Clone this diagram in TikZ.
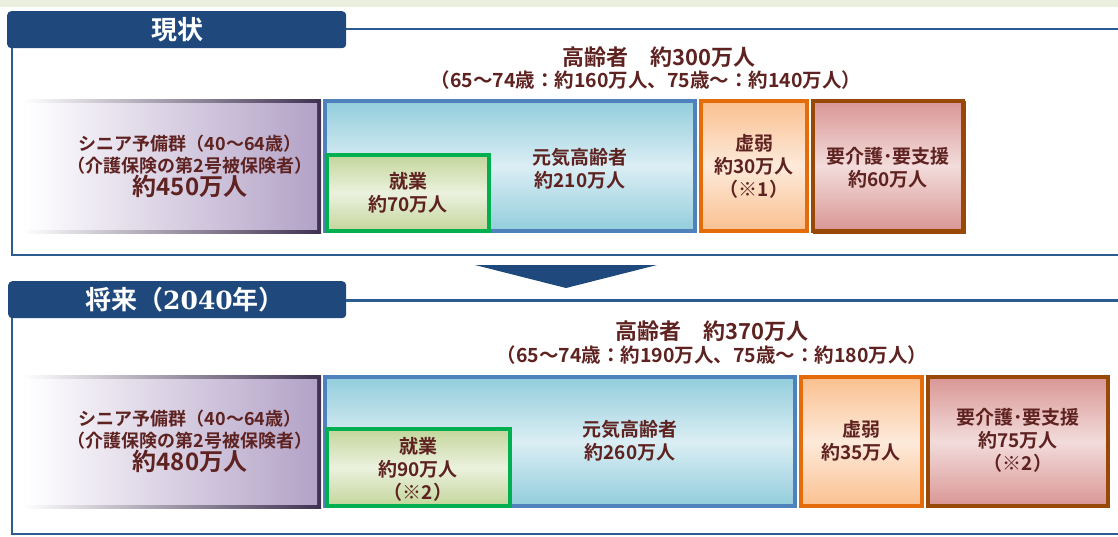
\documentclass[tikz,border=0pt]{standalone}
\usepackage{fontspec}
\newfontfamily\jp{Noto Sans CJK JP}[BoldFont={Noto Sans CJK JP Bold}]
\newfontfamily\numserif{DejaVu Serif Bold}
\definecolor{txtred}{HTML}{5E2220}
\definecolor{tabblue}{HTML}{1F497D}
\definecolor{frameblue}{HTML}{2B5C8F}
\definecolor{band}{HTML}{EBF0DE}
\definecolor{genkiB}{HTML}{4F81BD}\definecolor{genkiA}{HTML}{92CDDC}\definecolor{genkiM}{HTML}{DBEEF4}
\definecolor{shuB}{HTML}{00B050}\definecolor{shuA}{HTML}{C3D69B}\definecolor{shuM}{HTML}{EBF1DE}
\definecolor{kyoB}{HTML}{E46C0A}\definecolor{kyoA}{HTML}{FAC090}\definecolor{kyoM}{HTML}{FDEADA}
\definecolor{yoB}{HTML}{984807}\definecolor{yoA}{HTML}{D99694}\definecolor{yoM}{HTML}{F2DCDB}
\definecolor{senF}{HTML}{B3A2C7}\definecolor{senB}{HTML}{3F3151}
\begin{document}
\begin{tikzpicture}[x=1pt,y=-1pt,
  txt/.style={font={\jp\bfseries\fontsize{19}{23}\selectfont}, text=txtred, align=center, inner sep=0pt},
  sentxt/.style={txt, font={\jp\bfseries\fontsize{18}{22}\selectfont}},
  sub/.style={txt, font={\jp\bfseries\fontsize{19.5}{24}\selectfont}},
  big/.style={txt, font={\jp\bfseries\fontsize{22}{26}\selectfont}},
  tabbox/.style={fill=tabblue, rounded corners=4pt, inner sep=0pt, anchor=north west},
  tabtxt/.style={text=white, font={\jp\bfseries\fontsize{26}{30}\selectfont}, inner sep=0pt},
  frame/.style={draw=frameblue, line width=2.5pt},
  catbox/.style={line width=4pt, inner sep=0pt},
  genki/.style={catbox, draw=genkiB, top color=genkiA, bottom color=genkiA, middle color=genkiM},
  shu/.style={catbox, draw=shuB, top color=shuA, bottom color=shuA, middle color=shuM},
  kyo/.style={catbox, draw=kyoB, top color=kyoA, bottom color=kyoA, middle color=kyoM},
  yo/.style={catbox, draw=yoB, top color=yoA, bottom color=yoA, middle color=yoM},
]
\useasboundingbox (0,0) rectangle (1118,536);
\fill[band] (0,0) rectangle (1118,7);

% ---------- Frame 1 ----------
\node[tabbox, minimum width=339pt, minimum height=37pt] (tab1) at (7,11) {};
\node[tabtxt] (tab1t) at (177,30) {現状};
\coordinate (f1tl) at (12,48);
\coordinate (f1bl) at (12,255);
\coordinate (f1br) at (1118,255);
\coordinate (f1tr) at (1118,29);
\draw[frame] (f1tl) -- (f1bl) -- (f1br);
\draw[frame] (tab1.east |- f1tr) -- (f1tr);

\node[big] (h1) at (659,57) {高齢者　約300万人};
\node[sub] (h1b) at (646,80) {（65～74歳：約160万人、75歳～：約140万人）};

\shade[left color=white, right color=senB] (22,99) rectangle (321,233);
\shade[left color=white, right color=senF] (26,103) rectangle (317,229);
\node[sentxt] (sen1) at (190,166) {シニア予備群（40～64歳）\\（介護保険の第2号被保険者）\\{\fontsize{24}{26}\selectfont 約450万人}};

\node[genki, minimum width=370pt, minimum height=130pt] (genki1) at (510,166) {};
\node[txt] (genki1t) at (580,169) {元気高齢者\\約210万人};
\node[shu, minimum width=162pt, minimum height=76pt] (shu1) at (408,193) {};
\node[txt] (shu1t) at (408,193) {就業\\約70万人};
\node[kyo, minimum width=106pt, minimum height=130pt] (kyo1) at (754,166) {};
\node[txt] (kyo1t) at (754,166) {虚弱\\約30万人\\（※1）};
\fill[yoB] (813,101) rectangle (966,234);
\node[yo, minimum width=150pt, minimum height=130pt] (yo1) at (888,166) {};
\node[txt] (yo1t) at (888,168) {要介護･要支援\\約60万人};

% ---------- Arrow ----------
\coordinate (arL) at (475,265);
\coordinate (arR) at (657,265);
\coordinate (arT) at (566,288);
\fill[tabblue] (arL) -- (arR) -- (arT) -- cycle;

% ---------- Frame 2 ----------
\node[tabbox, minimum width=338pt, minimum height=37pt] (tab2) at (8,281) {};
\node[tabtxt] (tab2t) at (185,300) {将来（{\numserif\fontsize{25}{28}\selectfont 2040}年）};
\coordinate (f2tl) at (12,318);
\coordinate (f2bl) at (12,534);
\coordinate (f2br) at (1118,534);
\coordinate (f2tr) at (1118,300.5);
\draw[frame] (f2tl) -- (f2bl) -- (f2br);
\draw[frame] (tab2.east |- f2tr) -- (f2tr);

\node[big] (h2) at (712,331) {高齢者　約370万人};
\node[sub] (h2b) at (712,355) {（65～74歳：約190万人、75歳～：約180万人）};

\shade[left color=white, right color=senB] (22,375) rectangle (321,508);
\shade[left color=white, right color=senF] (26,379) rectangle (317,504);
\node[sentxt] (sen2) at (190,441) {シニア予備群（40～64歳）\\（介護保険の第2号被保険者）\\{\fontsize{24}{26}\selectfont 約480万人}};

\node[genki, minimum width=470pt, minimum height=129pt] (genki2) at (560,441.5) {};
\node[txt] (genki2t) at (630,441) {元気高齢者\\約260万人};
\node[shu, minimum width=183pt, minimum height=77pt] (shu2) at (418.5,467.5) {};
\node[txt] (shu2t) at (418,469) {就業\\約90万人\\（※2）};
\node[kyo, minimum width=121pt, minimum height=129pt] (kyo2) at (861.5,441.5) {};
\node[txt] (kyo2t) at (861,441) {虚弱\\約35万人};
\fill[yoB] (928,377) rectangle (1110,508);
\node[yo, minimum width=180pt, minimum height=129pt] (yo2) at (1018,441.5) {};
\node[txt] (yo2t) at (1018,440) {要介護･要支援\\約75万人\\（※2）};
\end{tikzpicture}
\end{document}
